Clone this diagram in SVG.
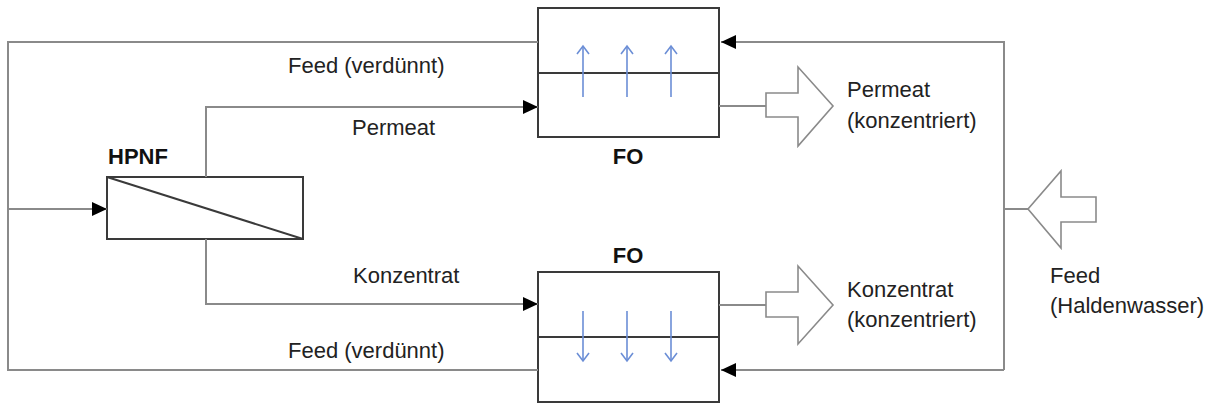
<svg xmlns="http://www.w3.org/2000/svg" width="1210" height="405" viewBox="0 0 1210 405">
<defs>
<style>
.ln{fill:none;stroke:#8a8a8a;stroke-width:2}
.box{fill:#fff;stroke:#3a3a3a;stroke-width:2}
.mem{fill:none;stroke:#3a3a3a;stroke-width:2}
.big{fill:#fff;stroke:#8a8a8a;stroke-width:1.6;stroke-linejoin:miter}
.blue{fill:none;stroke:#6b8ed6;stroke-width:1.6}
.t{font-family:"Liberation Sans",Arial,sans-serif;font-size:22px;fill:#222}
.b{font-family:"Liberation Sans",Arial,sans-serif;font-size:22px;font-weight:bold;fill:#111}
</style>
<marker id="ah" markerUnits="userSpaceOnUse" markerWidth="16" markerHeight="14" refX="15" refY="7" orient="auto">
<path d="M0,0 L15,7 L0,14 Z" fill="#000"/>
</marker>
<marker id="bh" markerUnits="userSpaceOnUse" markerWidth="12" markerHeight="14" refX="9" refY="7" orient="auto">
<path d="M1,1 L9,7 L1,13" fill="none" stroke="#6b8ed6" stroke-width="1.6"/>
</marker>
</defs>

<g id="fo-top">
<rect class="box" x="538" y="8" width="181" height="129"/>
<line class="mem" x1="538" y1="73" x2="719" y2="73"/>
<line class="blue" x1="583" y1="97" x2="583" y2="46" marker-end="url(#bh)"/>
<line class="blue" x1="627" y1="97" x2="627" y2="46" marker-end="url(#bh)"/>
<line class="blue" x1="671" y1="97" x2="671" y2="46" marker-end="url(#bh)"/>
<text class="b" x="628" y="164" text-anchor="middle">FO</text>
</g>

<g id="fo-bottom">
<rect class="box" x="538" y="272" width="181" height="130"/>
<line class="mem" x1="538" y1="337" x2="719" y2="337"/>
<line class="blue" x1="583" y1="311" x2="583" y2="361" marker-end="url(#bh)"/>
<line class="blue" x1="627" y1="311" x2="627" y2="361" marker-end="url(#bh)"/>
<line class="blue" x1="671" y1="311" x2="671" y2="361" marker-end="url(#bh)"/>
<text class="b" x="628" y="263" text-anchor="middle">FO</text>
</g>

<g id="hpnf">
<rect class="box" x="107" y="177" width="196" height="62"/>
<line class="mem" x1="107" y1="177" x2="303" y2="239"/>
<text class="b" x="108" y="164">HPNF</text>
</g>

<g id="out-permeat">
<path class="big" d="M766,93 H798 V67 L833,106 L798,146 V117 H766 Z"/>
<text class="t" x="847" y="97">Permeat</text>
<text class="t" x="847" y="128">(konzentriert)</text>
</g>

<g id="out-konzentrat">
<path class="big" d="M766,292 H798 V266 L833,305 L798,344 V317 H766 Z"/>
<text class="t" x="847" y="297">Konzentrat</text>
<text class="t" x="847" y="327">(konzentriert)</text>
</g>

<g id="in-feed">
<path class="big" d="M1096,197 H1061 V171 L1028,209 L1061,248 V222 H1096 Z"/>
<text class="t" x="1050" y="283">Feed</text>
<text class="t" x="1050" y="313">(Haldenwasser)</text>
</g>

<g id="connectors">
<polyline class="ln" points="1004,370 1004,42 721,42" marker-end="url(#ah)"/>
<polyline class="ln" points="1004,370 721,370" marker-end="url(#ah)"/>
<line class="ln" x1="1004" y1="209" x2="1028" y2="209"/>
<line class="ln" x1="719" y1="106" x2="766" y2="106"/>
<line class="ln" x1="719" y1="305" x2="766" y2="305"/>
<polyline class="ln" points="538,42 8,42 8,370 538,370"/>
<line class="ln" x1="8" y1="209" x2="107" y2="209" marker-end="url(#ah)"/>
<polyline class="ln" points="206,177 206,107 538,107" marker-end="url(#ah)"/>
<polyline class="ln" points="206,239 206,304 538,304" marker-end="url(#ah)"/>
<text class="t" x="288" y="73">Feed (verdünnt)</text>
<text class="t" x="352" y="135">Permeat</text>
<text class="t" x="353" y="283">Konzentrat</text>
<text class="t" x="288" y="358">Feed (verdünnt)</text>
</g>
</svg>
